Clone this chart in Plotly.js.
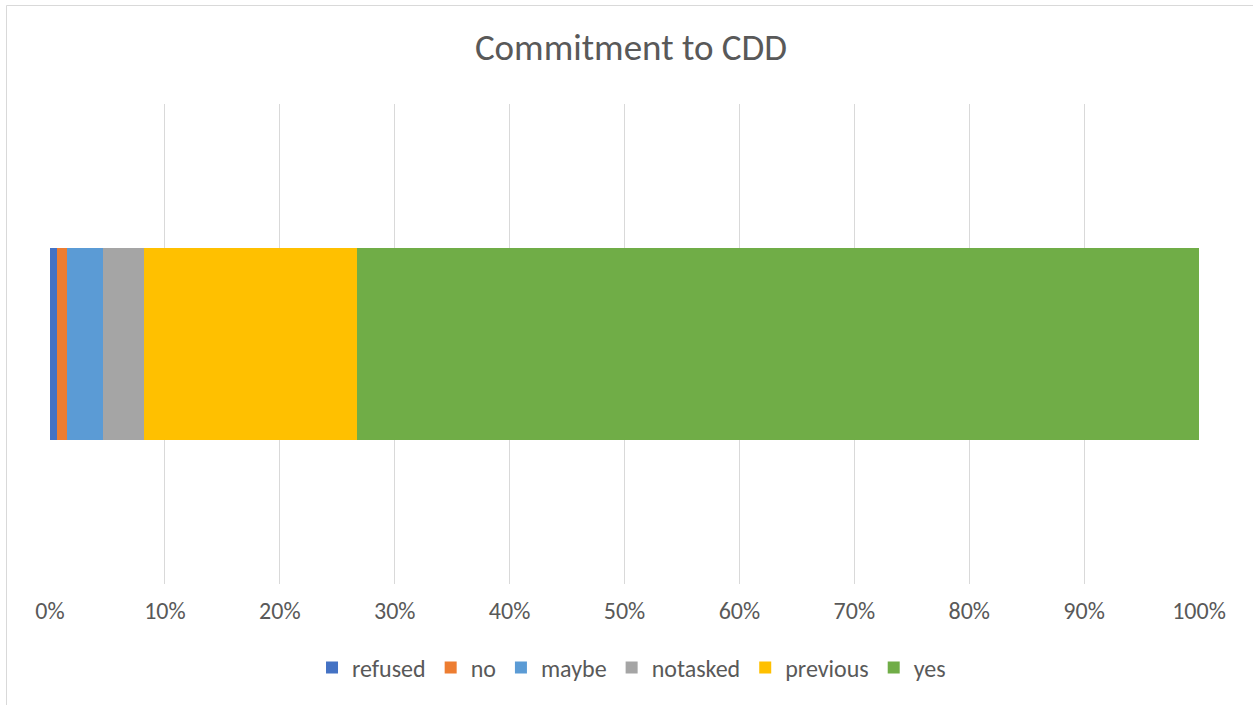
<!DOCTYPE html>
<html>
<head>
<meta charset="utf-8">
<script src="https://cdn.plot.ly/plotly-3.0.1.min.js"></script>
<style>
  html, body { margin: 0; padding: 0; background: #ffffff; }
  #chart { width: 1253px; height: 705px; }
</style>
</head>
<body>
<div id="chart"></div>
<script>
// ---- data ----
var chartTitle = "Commitment to CDD";
var seriesNames = ["refused", "no", "maybe", "notasked", "previous", "yes"];
var seriesValues = [0.6, 0.9, 3.1, 3.6, 18.5, 73.3]; // percent of respondents
var category = ["CDD"];
var tickValues = [0, 10, 20, 30, 40, 50, 60, 70, 80, 90, 100];
var tickLabels = ["0%", "10%", "20%", "30%", "40%", "50%", "60%", "70%", "80%", "90%", "100%"];

// ---- styles ----
var seriesColors = ["#4472C4", "#ED7D31", "#5B9BD5", "#A5A5A5", "#FFC000", "#70AD47"];
var fontFamily = "Calibri, Carlito, 'Open Sans', 'Noto Sans', sans-serif";
var textColor = "#595959";

var W = 1253, H = 705;
var margin = {l: 50, r: 54, t: 104, b: 121, pad: 0};
var pw = W - margin.l - margin.r, ph = H - margin.t - margin.b;
function px2paperX(px) { return (px - margin.l) / pw; }
function px2paperY(py) { return (H - margin.b - py) / ph; }

var traces = seriesNames.map(function (name, i) {
  return {
    type: "bar",
    orientation: "h",
    name: name,
    y: category,
    x: [seriesValues[i]],
    marker: {color: seriesColors[i], line: {width: 0}},
    hoverinfo: "name+x"
  };
});

var layout = {
  width: W,
  height: H,
  margin: margin,
  paper_bgcolor: "#ffffff",
  plot_bgcolor: "#ffffff",
  font: {family: fontFamily, color: textColor, size: 24},
  title: {
    text: chartTitle,
    font: {family: fontFamily, color: textColor, size: 37},
    xref: "container", x: 631 / W, xanchor: "center",
    yref: "container", y: 1 - 47 / H, yanchor: "middle"
  },
  barmode: "stack",
  bargap: 0.6,
  showlegend: true,
  legend: {
    orientation: "h",
    xref: "container", x: 0.504, xanchor: "center",
    yref: "container", y: (H - 668) / H, yanchor: "middle",
    font: {family: fontFamily, color: textColor, size: 24},
    itemwidth: 30,
    traceorder: "normal",
    bgcolor: "rgba(0,0,0,0)"
  },
  xaxis: {
    range: [0, 100],
    tickmode: "array",
    tickvals: tickValues,
    ticktext: tickLabels,
    showgrid: true,
    gridcolor: "#d9d9d9",
    gridwidth: 1,
    zeroline: false,
    showline: false,
    ticks: "",
    ticklabelstandoff: 10,
    tickfont: {family: fontFamily, color: textColor, size: 24},
    fixedrange: true
  },
  yaxis: {
    range: [-0.5, 0.5],
    showticklabels: false,
    showgrid: false,
    zeroline: false,
    showline: false,
    ticks: "",
    fixedrange: true
  },
  shapes: [
    {
      type: "rect", layer: "below",
      xref: "paper", yref: "paper",
      x0: px2paperX(6.5), x1: px2paperX(W + 20),
      y0: px2paperY(H + 20), y1: px2paperY(5.5),
      line: {color: "#d9d9d9", width: 1},
      fillcolor: "rgba(0,0,0,0)"
    }
  ]
};

Plotly.newPlot("chart", traces, layout, {displayModeBar: false, staticPlot: true});
</script>
</body>
</html>
